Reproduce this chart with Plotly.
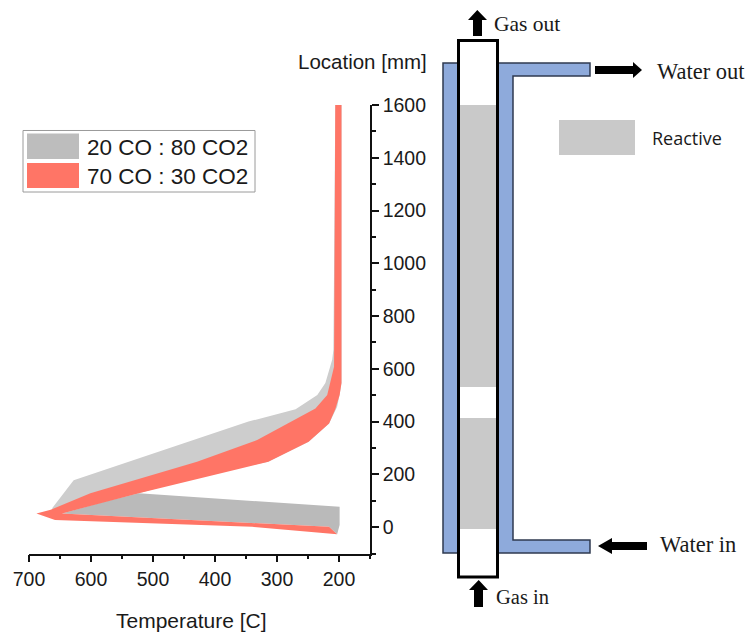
import plotly.graph_objects as go

# Temperature [C] / Location [mm] outlines
gray_upper_T = [206, 209, 211, 222, 235, 270, 346, 628, 663, 647, 523, 429, 314, 249, 216, 203, 199, 196, 196]
gray_upper_L = [1600, 672, 634, 546, 501, 447, 400, 178, 71, 52, 128, 190, 248, 324, 393, 456, 502, 546, 1600]
gray_lower_T = [199, 523, 580, 647, 216, 203, 199]
gray_lower_L = [77, 128, 95, 52, 1, -27, 8]
red_T = [206, 208, 219, 238, 332, 429, 601, 665, 688, 658, 340, 203, 216, 647, 523, 402, 314, 249, 216, 206, 199, 196, 196]
red_L = [1600, 608, 501, 450, 330, 248, 128, 66, 52, 27, 1, -27, 1, 52, 128, 197, 248, 324, 393, 447, 501, 546, 1600]
x_ticks = [700, 600, 500, 400, 300, 200]
y_ticks = [0, 200, 400, 600, 800, 1000, 1200, 1400, 1600]
legend_labels = ["20 CO : 80 CO2", "70 CO : 30 CO2"]
GRAY_LIGHT, GRAY_DARK, RED = "#cdcdcd", "#bababa", "#ff7566"
BLUE, REACTIVE, INK = "#8eaadb", "#c9c9c9", "#1a1a1a"

W, H = 748, 633
SANS, SERIF = "Liberation Sans", "Liberation Serif"


def px(x):
    return x / W


def py(y):
    return 1 - y / H


def poly(points, fill, line_color=None, line_width=0):
    path = "M " + " L ".join(f"{px(x):.5f},{py(y):.5f}" for x, y in points) + " Z"
    return dict(type="path", xref="paper", yref="paper", path=path, fillcolor=fill,
                line=dict(color=line_color or fill, width=line_width), layer="above")


def rect(x0, y0, x1, y1, fill, line_color=None, line_width=0):
    return poly([(x0, y0), (x1, y0), (x1, y1), (x0, y1)], fill, line_color, line_width)


def label(x, y, text, font, size, anchor="left"):
    return dict(xref="paper", yref="paper", x=px(x), y=py(y), text=text, showarrow=False,
                xanchor=anchor, yanchor="middle", borderpad=0,
                font=dict(family=font, size=size, color=INK))


fig = go.Figure()
for T, L, color in [(gray_upper_T, gray_upper_L, GRAY_LIGHT),
                    (gray_lower_T, gray_lower_L, GRAY_DARK),
                    (red_T, red_L, RED)]:
    fig.add_trace(go.Scatter(x=T, y=L, mode="lines", fill="toself", fillcolor=color,
                             line=dict(width=0), hoverinfo="skip", showlegend=False))

shapes = [
    # legend box
    rect(23, 130.5, 255, 192, "#ffffff", "#9a9a9a", 1),
    rect(27, 133.5, 79, 159, "#bdbdbd"),
    rect(27, 163, 79, 188, RED),
    # cooling jacket
    poly([(443, 63), (590, 63), (590, 76), (513, 76), (513, 540), (590, 540), (590, 553), (443, 553)],
         BLUE, "#2f3a50", 1.5),
    # tube
    rect(458.5, 40.5, 497.5, 577, "#ffffff", "#000000", 3),
    rect(460, 105, 496, 387, REACTIVE),
    rect(460, 418, 496, 529, REACTIVE),
    rect(559, 120, 635, 155, REACTIVE),
    # flow arrows
    poly([(477.3, 10), (487, 20), (482, 20), (482, 36), (473, 36), (473, 20), (468, 20)], "#000000"),
    poly([(478.7, 580), (488, 590), (483, 590), (483, 607), (474, 607), (474, 590), (469, 590)], "#000000"),
    poly([(642, 70), (633, 62), (633, 66), (595, 66), (595, 74), (633, 74), (633, 78)], "#000000"),
    poly([(598, 546), (612, 538), (612, 542), (647, 542), (647, 550), (612, 550), (612, 554)], "#000000"),
]

annotations = [
    label(86, 147, legend_labels[0], SANS, 22.5),
    label(86, 176, legend_labels[1], SANS, 22.5),
    label(428, 62, "Location [mm]", SANS, 20.5, "right"),
    label(493, 24, "Gas out", SERIF, 21.5),
    label(656, 71, "Water out", SERIF, 22.5),
    label(651, 138, "Reactive", "Open Sans", 18),
    label(659, 544, "Water in", SERIF, 22.5),
    label(495, 597, "Gas in", SERIF, 20.5),
    label(191.5, 620, "Temperature [C]", SANS, 21, "center"),
]

axis_common = dict(showgrid=False, zeroline=False, showline=True, linecolor="#111111", linewidth=1.5,
                   ticks="outside", ticklen=7, tickwidth=1.5, tickcolor="#111111", automargin=False,
                   tickfont=dict(family=SANS, size=19.5, color=INK))

fig.update_layout(
    width=W, height=H, autosize=False, margin=dict(l=0, r=0, t=0, b=0),
    paper_bgcolor="white", plot_bgcolor="white", showlegend=False,
    shapes=shapes, annotations=annotations,
    xaxis=dict(domain=[px(29), px(370)], range=[700, 150], tickvals=x_ticks,
               minor=dict(tickvals=[650, 550, 450, 350, 250, 150], ticks="outside", ticklen=4,
                          tickwidth=1.5, tickcolor="#111111"),
               **axis_common),
    yaxis=dict(domain=[py(553.5), py(105)], range=[-100, 1600], side="right", tickvals=y_ticks,
               minor=dict(tickvals=[-100, 100, 300, 500, 700, 900, 1100, 1300, 1500], ticks="outside",
                          ticklen=4, tickwidth=1.5, tickcolor="#111111"),
               **axis_common),
)

fig.write_html("out.html", config={"displayModeBar": False},
               post_script="document.body.style.margin='0';")
